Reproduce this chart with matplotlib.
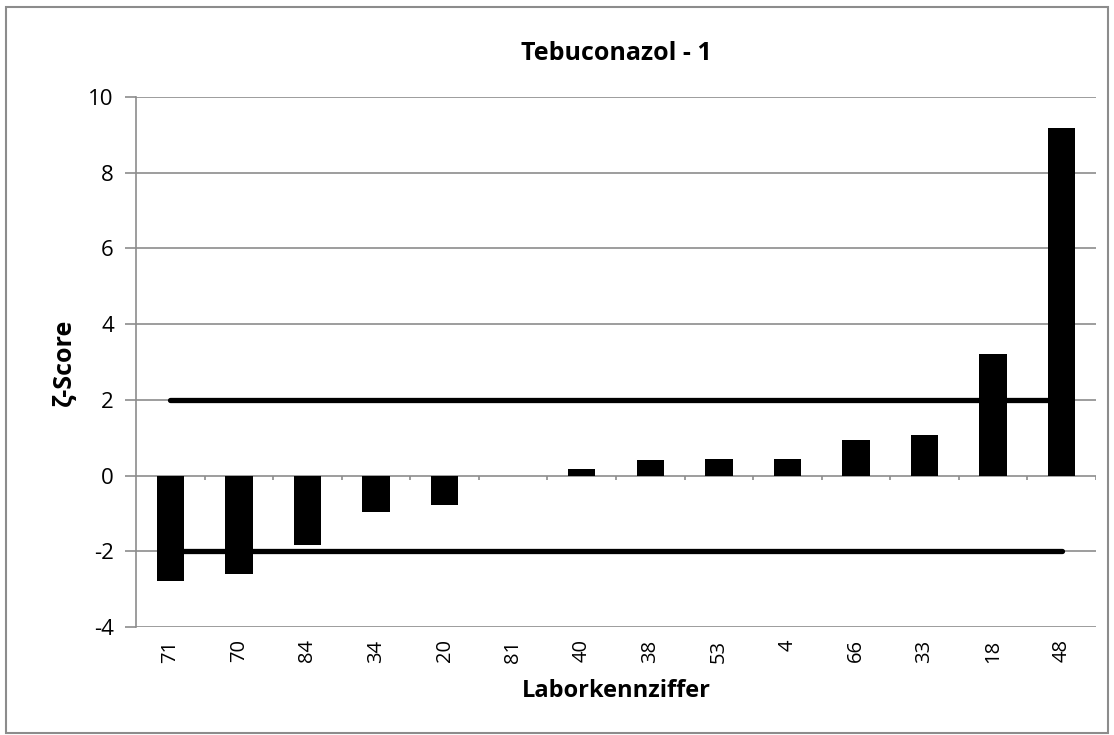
import numpy as np
import matplotlib
matplotlib.use("Agg")
import matplotlib.pyplot as plt
from matplotlib.patches import Rectangle

# Laboratory codes (x categories) and zeta scores
labs = ["71", "70", "84", "34", "20", "81", "40", "38", "53", "4", "66", "33", "18", "48"]
zeta = [-2.78, -2.59, -1.84, -0.96, -0.77, 0.0, 0.18, 0.40, 0.44, 0.45, 0.93, 1.08, 3.20, 9.18]
limit_upper = 2
limit_lower = -2
y_ticks = [-4, -2, 0, 2, 4, 6, 8, 10]

plt.rcParams["font.family"] = ["Open Sans", "DejaVu Sans"]

fig = plt.figure(figsize=(11.14, 7.35), dpi=100)
fig.patches.append(Rectangle((0.005, 0.003), 0.99, 0.987, transform=fig.transFigure,
                             fill=False, edgecolor="#8c8c8c", linewidth=1.5))
ax = fig.add_axes([0.1221, 0.147, 0.8617, 0.721])

x = np.arange(len(labs))
grid_c = "#8c8c8c"

for yt in y_ticks:
    ax.axhline(yt, color=grid_c, linewidth=1.2, zorder=1)

# limit lines from first to last category centre
ax.plot([x[0], x[-1]], [limit_upper, limit_upper], color="black", linewidth=3.8,
        solid_capstyle="round", zorder=2)
ax.plot([x[0], x[-1]], [limit_lower, limit_lower], color="black", linewidth=3.8,
        solid_capstyle="round", zorder=2)

ax.bar(x, zeta, width=0.4, color="black", zorder=3)

# category boundary ticks on the zero line
ax.vlines(x + 0.5, 0, -0.13, color=grid_c, linewidth=1.2, zorder=1)

ax.set_xlim(-0.5, len(labs) - 0.5)
ax.set_ylim(-4, 10)
ax.set_yticks(y_ticks)
ax.set_yticklabels([str(v) for v in y_ticks], fontsize=16)
ax.set_xticks(x)
ax.set_xticklabels(labs, rotation=90, fontsize=14.5)
ax.tick_params(axis="x", length=0, pad=9)
ax.tick_params(axis="y", length=8, width=1.2, color=grid_c, pad=8)

for side in ["top", "right", "bottom"]:
    ax.spines[side].set_visible(False)
ax.spines["left"].set_color(grid_c)
ax.spines["left"].set_linewidth(1.2)

ax.set_title("Tebuconazol - 1", fontsize=18, fontweight="bold", pad=27)
ax.set_ylabel("ζ-Score", fontsize=18, fontweight="bold", labelpad=8)
ax.set_xlabel("Laborkennziffer", fontsize=17, fontweight="bold", labelpad=12)

fig.savefig("out.png", dpi=100)
